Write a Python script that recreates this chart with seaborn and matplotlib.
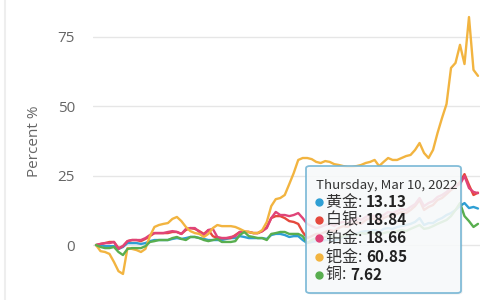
import numpy as np
import pandas as pd
import matplotlib
matplotlib.use("Agg")
import matplotlib.pyplot as plt
import seaborn as sns
from matplotlib.patches import FancyBboxPatch
from matplotlib.lines import Line2D
from matplotlib.text import Annotation

# ---------------- data (percent change) ----------------
dates = pd.bdate_range(end="2022-03-10", periods=86)

gold = [0, 0, -0.4, -0.4, -0.4, -1.4, -0.7, 0.7, 0.7, 0.7, 0.4, 0.7, 1.4, 1.8, 1.8, 1.8, 1.8, 2.2, 2.5, 2.2,
        2.5, 2.9, 2.9, 2.5, 2.2, 1.8, 1.8, 1.8, 1.8, 2.2, 2.5, 2.5, 3.2, 2.9, 2.5, 2.5, 2.5, 2.5, 2.2, 3.6,
        4.0, 4.0, 3.6, 2.9, 3.2, 3.2, 1.8, 0.7, 1.1, 1.4, 1.4, 1.8, 1.8, 1.4, 2.2, 2.9, 3.2, 4.0, 4.0, 4.7,
        5.0, 5.0, 5.4, 4.7, 5.8, 6.1, 5.8, 6.5, 6.8, 7.2, 7.6, 8.3, 9.7, 7.2, 7.9, 7.9, 9.0, 9.7, 10.8, 11.5,
        12.6, 14.0, 15.1, 13.3, 13.7, 13.13]

silver = [0, 0.4, 0.7, 1.1, 1.1, -1.1, -0.4, 1.4, 1.8, 1.8, 1.4, 2.2, 3.2, 4.3, 4.3, 4.3, 4.3, 4.7, 4.7, 4.0,
          5.4, 6.1, 5.8, 5.0, 4.0, 5.4, 3.2, 2.5, 2.5, 2.5, 2.5, 3.6, 4.7, 4.7, 4.7, 4.3, 4.3, 5.0, 6.5, 9.7,
          10.4, 10.4, 9.7, 8.6, 8.3, 7.6, 4.7, 2.5, 3.2, 4.0, 4.0, 4.7, 5.4, 5.0, 6.1, 6.8, 6.5, 7.6, 8.3, 7.6,
          9.0, 9.7, 9.4, 8.3, 9.7, 10.4, 10.1, 11.2, 11.9, 11.5, 12.6, 14.0, 16.2, 12.6, 13.7, 14.4, 16.2, 16.9, 18.3, 19.8,
          20.9, 22.7, 25.5, 21.6, 18.0, 18.84]

platinum = [0, 0.4, 0.7, 0.7, 1.1, -1.4, -0.4, 1.4, 1.8, 1.8, 1.8, 2.5, 3.6, 4.3, 4.3, 4.3, 4.7, 5.0, 4.7, 4.0,
            5.8, 6.1, 6.1, 4.7, 3.6, 5.4, 5.8, 2.9, 2.5, 2.5, 2.9, 3.2, 4.7, 4.7, 4.7, 4.3, 4.3, 5.0, 6.1, 9.7,
            11.9, 10.8, 10.8, 10.4, 10.8, 11.5, 9.7, 7.6, 6.8, 6.1, 6.5, 7.2, 7.6, 6.8, 7.9, 8.3, 7.9, 9.0, 9.7, 9.0,
            10.1, 10.8, 10.4, 9.7, 10.8, 11.9, 11.5, 12.2, 13.0, 12.6, 13.7, 14.7, 16.9, 14.0, 15.1, 15.8, 17.3, 18.0, 19.1, 20.5,
            21.2, 21.9, 24.8, 20.5, 19.1, 18.66]

palladium = [0, -2.2, -2.5, -3.2, -6.1, -9.4, -10.4, -1.1, -1.4, -1.8, -2.5, -1.4, 3.2, 6.5, 7.2, 7.6, 7.9, 9.4, 10.1, 8.6,
             6.5, 5.0, 4.3, 4.0, 2.9, 4.0, 6.1, 7.2, 6.8, 6.8, 6.8, 6.5, 5.8, 5.0, 4.7, 4.3, 4.3, 5.4, 8.3, 14.0,
             16.5, 16.9, 18.0, 21.9, 25.9, 30.6, 31.3, 31.3, 30.9, 29.9, 29.5, 30.2, 29.9, 29.1, 28.8, 28.4, 28.1, 28.1, 28.4, 28.8,
             29.5, 29.9, 30.6, 28.4, 29.9, 31.3, 30.6, 30.6, 31.3, 32.0, 32.4, 34.2, 36.7, 33.1, 31.3, 34.2, 40.3, 45.7, 50.7, 63.7,
             65.5, 72.0, 65.1, 82.0, 63.0, 60.85]

copper = [0, -0.7, -1.1, -1.1, -0.7, -2.5, -3.6, -1.4, -1.1, -1.1, -1.1, -0.4, 1.1, 1.4, 1.8, 1.8, 1.8, 2.5, 2.9, 2.2,
          1.8, 2.9, 2.9, 2.5, 1.8, 1.4, 1.8, 2.2, 1.1, 1.1, 1.1, 1.4, 3.6, 4.7, 3.2, 2.9, 2.5, 2.5, 1.8, 4.0,
          4.3, 4.7, 4.7, 4.0, 4.0, 4.0, 3.2, 0.7, 1.8, 2.5, 2.5, 2.9, 3.2, 2.9, 2.5, 3.2, 3.6, 4.0, 3.6, 4.3,
          4.0, 4.7, 4.3, 3.6, 4.3, 4.7, 4.3, 5.0, 5.4, 5.0, 5.8, 6.5, 7.2, 5.8, 6.1, 6.8, 7.6, 8.3, 9.0, 10.4,
          12.6, 15.1, 10.4, 8.6, 6.5, 7.62]

names = ["黄金", "白银", "铂金", "钯金", "铜"]
series = [gold, silver, platinum, palladium, copper]
colors = ["#2e9fd4", "#e5483c", "#e04478", "#f2b440", "#58ae4f"]
yticks = [0, 25, 50, 75]
ylabel = "Percent %"
tooltip_date = "Thursday, Mar 10, 2022"

# ---------------- build long table ----------------
frames = []
for nm, vals in zip(names, series):
    frames.append(pd.DataFrame({"idx": np.arange(len(dates)), "date": dates,
                                "metal": nm, "value": vals}))
df = pd.concat(frames, ignore_index=True)

sns.set_style("white")
plt.rcParams["font.family"] = ["Open Sans", "Noto Sans CJK SC", "DejaVu Sans"]

fig = plt.figure(figsize=(5, 3), dpi=100)
ax = fig.add_axes([0.186, 0.072, 0.774, 0.899])

sns.lineplot(data=df, x="idx", y="value", hue="metal", hue_order=names,
             palette=dict(zip(names, colors)), linewidth=1.7, legend=False, ax=ax)

ax.set_xlim(-0.67, 85.45)
ax.set_ylim(-12, 85)
ax.set_yticks(yticks)
ax.set_yticklabels([str(t) for t in yticks])
ax.set_xticks([])
ax.set_xlabel("")
ax.grid(axis="y", color="#e6e6e6", linewidth=1)
ax.set_axisbelow(True)
for s in ax.spines.values():
    s.set_visible(False)
ax.tick_params(axis="y", length=0, pad=13, labelsize=11, labelcolor="#666666")
ax.set_ylabel(ylabel, fontsize=11, color="#666666")
ax.yaxis.set_label_coords(-0.152, 0.509)
ax.yaxis.label.set_verticalalignment("center")

# faint left border
fig.add_artist(Line2D([0.01, 0.01], [0, 1], color="#eeeeee", lw=1.5, transform=fig.transFigure))

# ---------------- tooltip ----------------
x0, x1 = 306 / 500, 461 / 500
y0, y1 = (300 - 293) / 300, (300 - 166) / 300
shadow = FancyBboxPatch((x0 + 0.003, y0 - 0.005), x1 - x0, y1 - y0,
                        boxstyle="round,pad=0,rounding_size=0.008",
                        transform=fig.transFigure, facecolor="#000000", alpha=0.06,
                        edgecolor="none", zorder=9)
box = FancyBboxPatch((x0, y0), x1 - x0, y1 - y0,
                     boxstyle="round,pad=0,rounding_size=0.008",
                     transform=fig.transFigure, facecolor="#f9fbfc", alpha=0.88,
                     edgecolor="#72b4d4", linewidth=1.3, zorder=10)
fig.add_artist(shadow)
fig.add_artist(box)

tfam = ["Noto Sans CJK SC", "DejaVu Sans"]
fig.text(316 / 500, (300 - 185) / 300, tooltip_date, fontsize=9.5, color="#333333",
         va="center", ha="left", family=tfam, zorder=11)
row_y = [202, 220, 238, 257, 275]
for nm, vals, c, ry in zip(names, series, colors, row_y):
    yy = (300 - ry) / 300
    fig.add_artist(Line2D([319 / 500], [yy], marker="o", markersize=5, color=c,
                          transform=fig.transFigure, zorder=11))
    lab = fig.text(326 / 500, yy, f"{nm}: ", fontsize=11.5, color="#333333",
                   va="center", ha="left", family=tfam, zorder=11)
    ann = Annotation(f"{vals[-1]:.2f}", xy=(1, 0.5), xycoords=lab, va="center", ha="left",
                     fontsize=11, fontweight="bold", color="#222222", family=tfam,
                     annotation_clip=False, zorder=12)
    fig.add_artist(ann)

fig.savefig("out.png", dpi=100)
